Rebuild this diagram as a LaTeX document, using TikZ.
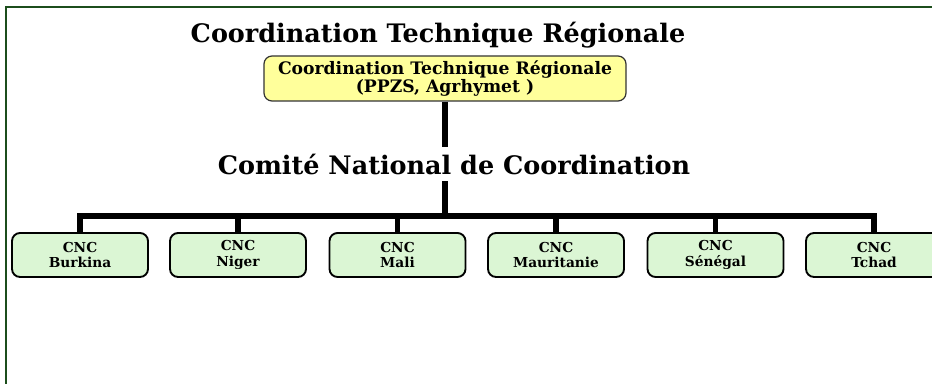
\documentclass[tikz,border=0pt]{standalone}
\usepackage{fontspec}
\setmainfont{DejaVu Serif}
\begin{document}
\begin{tikzpicture}[x=0.75pt,y=-0.75pt,
  frame/.style={draw=framegreen,line width=1.6pt},
  conn/.style={line width=3.9pt,draw=black},
  topbox/.style={draw=black!80,line width=0.9pt,rounded corners=6pt,fill=boxyellow,
    minimum width=271.5pt,minimum height=33.75pt,align=center,inner sep=0pt,
    font=\bfseries\fontsize{12.9}{13}\selectfont},
  cncbox/.style={draw=black,line width=1.4pt,rounded corners=6pt,fill=boxgreen,
    minimum width=102pt,minimum height=33pt,align=center,inner sep=0pt,
    font=\bfseries\fontsize{10.3}{11.5}\selectfont},
  heading/.style={font=\bfseries\fontsize{19.1}{22}\selectfont,inner sep=1pt}]
\definecolor{framegreen}{RGB}{28,78,28}
\definecolor{boxyellow}{RGB}{255,255,155}
\definecolor{boxgreen}{RGB}{219,246,212}
\useasboundingbox (0,0) rectangle (932,384);
\draw[frame] (6,400) -- (6,7) -- (940,7);
\node[heading] (t1) at (438,35) {Coordination Technique Régionale};
\node[topbox] (ctr) at (445,78.5) {Coordination Technique Régionale\\(PPZS, Agrhymet )};
\coordinate (bar) at (445,216);
\draw[conn] (ctr.south) -- (bar);
\node[heading,fill=white,inner ysep=5pt] (t2) at (454,164) {Comité National de Coordination};
\node[cncbox] (b1) at (80,255) {CNC\\Burkina};
\node[cncbox] (b2) at (238,255) {CNC\\Niger};
\node[cncbox] (b3) at (397.5,255) {CNC\\Mali};
\node[cncbox] (b4) at (556,255) {CNC\\Mauritanie};
\node[cncbox] (b5) at (715.5,255) {CNC\\Sénégal};
\node[cncbox] (b6) at (874,255) {CNC\\Tchad};
\foreach \b in {b1,b2,b3,b4,b5,b6}{\draw[conn] (bar) -| (\b.north);}
\end{tikzpicture}
\end{document}
